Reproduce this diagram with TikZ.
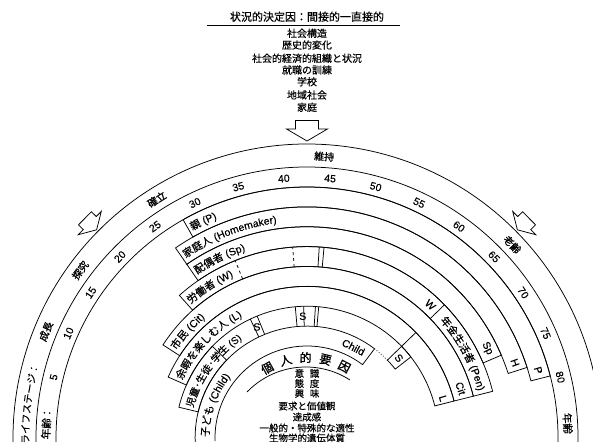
\documentclass[tikz,border=0pt]{standalone}
\usepackage{fontspec}
\setmainfont{Noto Sans CJK JP}[FakeBold=0.4]
\newfontfamily\heavy{Noto Sans CJK JP}[FakeBold=1.2]
\newfontfamily\lat{Liberation Sans}[FakeBold=0.3]
\usetikzlibrary{decorations.text}
\newcommand{\bandbox}[4]{%
  \pgfmathsetmacro{\bsA}{90-(#3-42.5)*2.04}%
  \pgfmathsetmacro{\bsB}{90-(#4-42.5)*2.04}%
  \draw (\bsA:#1) arc[start angle=\bsA, end angle=\bsB, radius=#1] -- (\bsB:#2) arc[start angle=\bsB, end angle=\bsA, radius=#2] -- cycle;}
\newcommand{\radline}[4][]{%
  \pgfmathsetmacro{\rlA}{90-(#4-42.5)*2.04}%
  \draw[#1] (\rlA:#2) -- (\rlA:#3);}
\newcommand{\arctext}[5]{% radius, start angle, size, cjk text, latin text
  \pgfmathsetmacro{\atE}{#2-120}%
  \path[decorate, decoration={text along path, text={|\fontsize{#3}{#3}\selectfont|#4|\lat\fontsize{#3}{#3}\selectfont| #5}, text align={left indent=0pt}}] (#2:#1) arc[start angle=#2, end angle=\atE, radius=#1];}
\newcommand{\arrowshape}{(0,0) -- (20.5,12) -- (11.5,12) -- (11.5,20.5) -- (-11.5,20.5) -- (-11.5,12) -- (-20.5,12) -- cycle}
\begin{document}
\begin{tikzpicture}[x=1pt,y=1pt,line width=0.75pt,
  lst/.style={inner sep=0pt, font=\fontsize{10}{10}\selectfont},
  agelbl/.style={inner sep=0pt, font=\lat\fontsize{10.5}{10.5}\selectfont},
  agejp/.style={inner sep=0pt, font=\fontsize{10.5}{10.5}\selectfont},
  stage/.style={inner sep=0pt, font=\heavy\fontsize{10}{10}\selectfont},
  endlbl/.style={inner sep=0pt, font=\lat\fontsize{10.5}{10.5}\selectfont},
  inner/.style={inner sep=0pt, font=\fontsize{9.5}{9.5}\selectfont},
  kanji/.style={inner sep=0pt, font=\heavy\fontsize{12}{12}\selectfont}]
\useasboundingbox (-307,-3) rectangle (286,438);
\clip (-307,-3) rectangle (286,438);
% ---- situational determinants
\node[inner sep=0pt, font=\fontsize{11}{11}\selectfont] (title) at (0,421.3) {状況的決定因：間接的一直接的};
\draw (-100,413) -- (93,413);
\node[lst] (s1) at (0,404.7) {社会構造};
\node[lst] (s2) at (0,393) {歴史的変化};
\node[lst] (s3) at (0,379.7) {社会的経済的組織と状況};
\node[lst] (s4) at (0,368) {就職の訓練};
\node[lst] (s5) at (0,356.3) {学校};
\node[lst] (s6) at (0,343) {地域社会};
\node[lst] (s7) at (0,330.7) {家庭};
% ---- block arrows
\draw[shift={(0,297)}] \arrowshape;
\draw[shift={(135.3:296)}, rotate=45.3, scale=0.8] \arrowshape;
\draw[shift={(44.7:296)}, rotate=-45.3, scale=0.8] \arrowshape;
% ---- outer rings
\draw (-5:294) arc[start angle=-5, end angle=185, radius=294];
\draw (-5:271) arc[start angle=-5, end angle=185, radius=271];
\draw (-5:251) arc[start angle=-5, end angle=185, radius=251];
% stage labels
\node[stage, rotate=67.8] (st1) at (157.8:282) {成長};
\node[stage, rotate=53.5] (st2) at (143.5:282) {探究};
\node[stage, rotate=32.2] (st3) at (122.2:282) {確立};
\node[stage, rotate=-3.5] (st4) at (86.5:282) {維持};
\node[stage, rotate=-46.7] (st5) at (43.3:282) {老齢};
\path[decorate, decoration={text along path, text={|\fontsize{10}{10}\selectfont|ライフステージ：}, text align=center}] (189:278) arc[start angle=189, end angle=157, radius=278];
% age labels
\foreach \a in {5,10,...,80}{
  \pgfmathsetmacro{\t}{90-(\a-42.5)*2.04}
  \pgfmathsetmacro{\rt}{\t-90}
  \node[agelbl, rotate=\rt] (age\a) at (\t:260.5) {\a};
}
\node[agejp, rotate=86.8] (agel) at (176.8:261) {年齢：};
\node[agejp, rotate=-86.8] (ager) at (3.2:261) {年齢};
% ---- role bands
\bandbox{231.1}{251}{28}{79.6}
\bandbox{211.25}{231.1}{25.5}{77.9}
\bandbox{191.4}{211.25}{25.5}{75.3}
\bandbox{171.5}{191.4}{22}{79.7}
\radline{171.5}{191.4}{65}
\radline[dashed]{171.5}{191.4}{31.7}
\radline[dashed]{171.5}{191.4}{40.4}
\radline{171.5}{191.4}{44.3}
\radline{171.5}{191.4}{45}
\bandbox{151.6}{171.5}{14.5}{79.7}
\bandbox{131.75}{151.6}{10}{79.7}
\radline{131.75}{151.6}{65}
\bandbox{111.9}{131.75}{5}{20}
\bandbox{111.9}{131.75}{65}{68}
\radline{111.9}{131.75}{30}
\radline{111.9}{131.75}{31.6}
\radline{111.9}{131.75}{40}
\radline{111.9}{131.75}{41.8}
\radline{111.9}{131.75}{44.3}
\radline{111.9}{131.75}{45}
\draw (182:92) arc[start angle=182, end angle=52.87, radius=92] -- (52.87:111.9) arc[start angle=52.87, end angle=182, radius=111.9];
\draw[dotted] (52.87:111.9) arc[start angle=52.87, end angle=44.1, radius=111.9];
% left role labels
\arctext{236.9}{118.9}{10.5}{親}{(P)}
\arctext{217}{124}{10.5}{家庭人}{(Homemaker)}
\arctext{197.1}{123.9}{10.5}{配偶者}{(Sp)}
\arctext{177.3}{131}{10.5}{労働者}{(W)}
\arctext{157.4}{146.2}{10.5}{市民}{(Cit)}
\arctext{137.5}{155.2}{10.5}{余暇を楽しむ人}{(L)}
\arctext{117.8}{165.2}{10}{児童･生徒･学生}{(S)}
\arctext{98}{179.5}{10.5}{子ども}{(Child)}
\arctext{177.3}{41.5}{10.5}{年金生活者}{(Pen)}
% right role labels
\node[endlbl, rotate=-42.8] (eW) at (47.2:181.45) {W};
\node[endlbl, rotate=-63.6] (eSp) at (26.4:201.3) {Sp};
\node[endlbl, rotate=-70.1] (eH) at (19.9:221.2) {H};
\node[endlbl, rotate=-73.7] (eP) at (16.3:241) {P};
\node[endlbl, rotate=-72.1] (eCit) at (17.9:161.55) {Cit};
\node[endlbl, rotate=-73.8] (eL) at (16.2:141.7) {L};
\node[endlbl, rotate=-49] (eS) at (41:121.8) {S};
\node[endlbl, rotate=-27.1] (eChild) at (62.9:101.95) {Child};
\node[endlbl, rotate=3.5] (mS1) at (114.3:121.8) {S};
\node[endlbl, rotate=2] (mS2) at (92:121.8) {S};
% ---- personal determinants
\node[kanji, rotate=29.6] (k1) at (119.6:80.5) {個};
\node[kanji, rotate=15.3] (k2) at (105.3:80.5) {人};
\node[kanji, rotate=1] (k3) at (91:80.5) {的};
\node[kanji, rotate=-13.3] (k4) at (76.7:80.5) {要};
\node[kanji, rotate=-27.6] (k5) at (62.4:80.5) {因};
\draw ([shift={(-1.2,-10.6)}]136:81.6) arc[start angle=136, end angle=57.2, radius=81.6];
\node[inner] (p1) at (0,64.5) {意\hspace{0.6em}識};
\node[inner] (p2) at (0,54.5) {態\hspace{0.6em}度};
\node[inner] (p3) at (0,44.5) {興\hspace{0.6em}味};
\node[inner] (p4) at (0,32) {要求と価値観};
\node[inner] (p5) at (0,21) {達成感};
\node[inner] (p6) at (0,10) {一般的・特殊的な適性};
\node[inner] (p7) at (0,0) {生物学的遺伝体質};
\end{tikzpicture}
\end{document}
